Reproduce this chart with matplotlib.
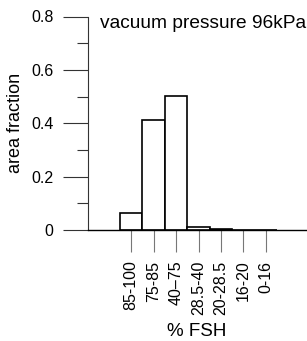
import matplotlib
matplotlib.use("Agg")
import matplotlib.pyplot as plt
from matplotlib.ticker import MultipleLocator

categories = ["85-100", "75-85", "40\u201375", "28.5-40", "20-28.5", "16-20", "0-16"]
values = [0.062, 0.413, 0.503, 0.012, 0.004, 0.0, 0.0]
yticks = [0, 0.2, 0.4, 0.6, 0.8]
yticklabels = ["0", "0.2", "0.4", "0.6", "0.8"]

plt.rcParams['font.family'] = ['Liberation Sans', 'DejaVu Sans']

W, H = 307, 341
fig = plt.figure(figsize=(W / 100, H / 100), dpi=100)
ax = fig.add_axes([88 / W, 1 - 230 / H, 1 - 88 / W, (230 - 16.5) / H])

x = list(range(len(categories)))
ax.bar(x, values, width=1.0, color="white", edgecolor="black", linewidth=1.2, zorder=3)

ax.set_xlim(-1.92, 7.83)
ax.set_ylim(0, 0.8)
ax.set_yticks(yticks)
ax.set_yticklabels(yticklabels, fontsize=11.5)
ax.yaxis.set_minor_locator(MultipleLocator(0.1))
ax.tick_params(axis='y', which='major', length=18, width=0.8, color='#333333', pad=7, direction='out')
ax.tick_params(axis='y', which='minor', length=8, width=0.8, color='#333333', direction='out')

ax.set_xticks(x)
ax.set_xticklabels(categories, rotation=90, fontsize=11.5)
ax.tick_params(axis='x', which='major', length=16, width=0.8, color='#777777', pad=6, direction='out')

for s in ['top', 'right']:
    ax.spines[s].set_visible(False)
ax.spines['left'].set_color('#333333')
ax.spines['left'].set_linewidth(0.8)
ax.spines['bottom'].set_color('black')
ax.spines['bottom'].set_linewidth(1.0)
ax.spines['bottom'].set_zorder(4)

fig.text(16 / W, 1 - 123 / H, "area fraction", rotation=90, fontsize=13,
         ha='center', va='center')
fig.text(100 / W, 1 - 28.5 / H, "vacuum pressure 96kPa", fontsize=13.8,
         ha='left', va='baseline')
fig.text(197 / W, 1 - 331 / H, "% FSH", fontsize=13.5, ha='center', va='center')

fig.savefig("out.png", dpi=100)
